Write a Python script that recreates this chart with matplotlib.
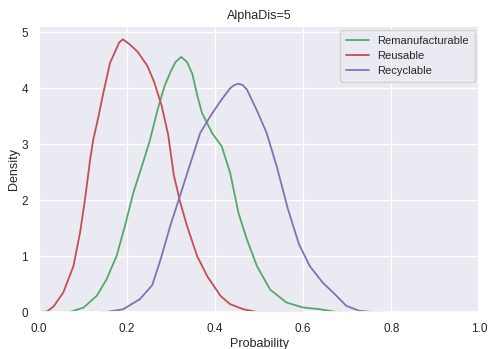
import matplotlib
matplotlib.use("Agg")
import matplotlib.pyplot as plt
import seaborn as sns

# density curves (x = probability, y = density)
reman_x = [0.06, 0.07, 0.101, 0.131, 0.153, 0.176, 0.195, 0.214, 0.236, 0.251, 0.27, 0.285,
           0.299, 0.31, 0.323, 0.336, 0.348, 0.36, 0.37, 0.393, 0.415, 0.434, 0.453, 0.472,
           0.495, 0.525, 0.562, 0.6, 0.638, 0.676, 0.7]
reman_y = [0.0, 0.0, 0.08, 0.29, 0.58, 1.0, 1.54, 2.13, 2.67, 3.05, 3.64, 4.04,
           4.3, 4.47, 4.56, 4.47, 4.26, 3.85, 3.56, 3.2, 2.96, 2.49, 1.77, 1.3,
           0.82, 0.4, 0.17, 0.08, 0.05, 0.0, 0.0]

reuse_x = [0.009, 0.018, 0.033, 0.055, 0.078, 0.093, 0.104, 0.116, 0.123, 0.135, 0.146, 0.161,
           0.174, 0.182, 0.19, 0.2, 0.208, 0.224, 0.246, 0.261, 0.278, 0.293, 0.306, 0.321,
           0.336, 0.359, 0.382, 0.412, 0.434, 0.464, 0.495, 0.6]
reuse_y = [0.0, 0.01, 0.1, 0.35, 0.82, 1.42, 2.0, 2.73, 3.08, 3.5, 3.92, 4.45,
           4.68, 4.82, 4.875, 4.82, 4.77, 4.65, 4.4, 4.12, 3.7, 3.18, 2.45, 1.95,
           1.54, 1.0, 0.64, 0.29, 0.14, 0.05, 0.0, 0.0]

recyc_x = [0.14, 0.153, 0.191, 0.229, 0.257, 0.276, 0.298, 0.321, 0.343, 0.366, 0.389, 0.412,
           0.434, 0.444, 0.453, 0.462, 0.472, 0.495, 0.517, 0.54, 0.565, 0.59, 0.615, 0.645,
           0.668, 0.698, 0.728, 0.758, 0.78]
recyc_y = [0.0, 0.0, 0.05, 0.23, 0.48, 0.94, 1.54, 2.1, 2.64, 3.2, 3.5, 3.77,
           4.0, 4.06, 4.08, 4.06, 3.98, 3.6, 3.2, 2.6, 1.85, 1.22, 0.82, 0.52,
           0.35, 0.11, 0.02, 0.0, 0.0]

sns.set_theme(style="darkgrid")
plt.rcParams['font.family'] = ['Liberation Sans', 'DejaVu Sans']

fig = plt.figure(figsize=(4.89, 3.49), dpi=100)
ax = fig.add_axes([0.08, 0.106, 0.90, 0.819])

ax.plot(reman_x, reman_y, color='#55A868', lw=1.3, label='Remanufacturable')
ax.plot(reuse_x, reuse_y, color='#C44E52', lw=1.3, label='Reusable')
ax.plot(recyc_x, recyc_y, color='#8172B3', lw=1.3, label='Recyclable')

ax.set_xlim(0, 1)
ax.set_ylim(0, 5.11)
ax.set_xticks([0.0, 0.2, 0.4, 0.6, 0.8, 1.0])
ax.set_yticks([0, 1, 2, 3, 4, 5])
ax.tick_params(labelsize=8.5, pad=2)
ax.set_xlabel('Probability', fontsize=9, labelpad=2)
ax.set_ylabel('Density', fontsize=9, labelpad=1)
ax.set_title('AlphaDis=5', fontsize=9, pad=5)
ax.legend(loc='upper right', fontsize=8, labelspacing=0.42, borderpad=0.55,
          borderaxespad=0.35)

fig.savefig('out.png', dpi=100)
